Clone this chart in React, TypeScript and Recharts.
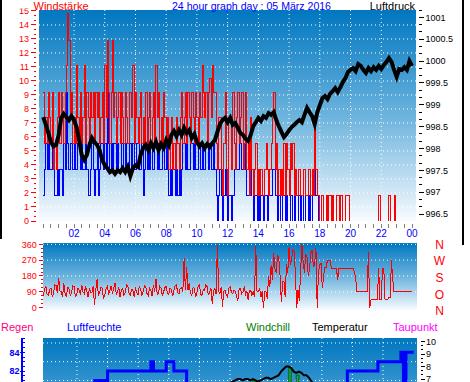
import React from 'react';
import { ComposedChart, Line, XAxis, YAxis, CartesianGrid } from 'recharts';

const FONT = "'Liberation Sans', Arial, Helvetica, sans-serif";
const WIND_STEP = 1 / 12; // wind readings every 5 minutes
const BARO_STEP = 1 / 6; // pressure / climate readings every 10 minutes

// Windstärke (km/h): gusts (red) and average (blue), 00:00 .. 24:00
const gust = [
  9.2, 5.5, 7.4, 5.5, 9.2, 7.4, 5.5, 9.2, 3.7, 5.5, 3.7, 7.4, 9.2, 5.5, 9.2, 7.4, 5.5, 9.2, 11.1, 14.8, 12.9, 7.4, 9.2, 5.5,
  7.4, 5.5, 11.1, 7.4, 5.5, 9.2, 5.5, 7.4, 11.1, 5.5, 9.2, 7.4, 5.5, 9.2, 7.4, 9.2, 5.5, 9.2, 7.4, 9.2, 5.5, 7.4, 9.2, 5.5,
  11.1, 7.4, 12.9, 9.2, 5.5, 9.2, 12.9, 7.4, 9.2, 5.5, 7.4, 9.2, 5.5, 9.2, 7.4, 5.5, 9.2, 7.4, 5.5, 9.2, 9.2, 7.4, 11.1, 5.5,
  9.2, 7.4, 5.5, 7.4, 9.2, 5.5, 7.4, 5.5, 9.2, 5.5, 7.4, 9.2, 5.5, 7.4, 9.2, 5.5, 11.1, 7.4, 9.2, 5.5, 7.4, 5.5, 9.2, 7.4,
  5.5, 7.4, 3.7, 5.5, 7.4, 3.7, 5.5, 3.7, 7.4, 5.5, 3.7, 7.4, 9.2, 5.5, 7.4, 9.2, 5.5, 9.2, 7.4, 5.5, 9.2, 7.4, 5.5, 9.2,
  7.4, 5.5, 9.2, 7.4, 11.1, 9.2, 7.4, 9.2, 5.5, 9.2, 10.2, 7.4, 11.1, 9.2, 9.2, 5.5, 3.7, 7.4, 7.4, 3.7, 1.8, 5.5, 9.2, 3.7,
  1.8, 7.4, 7.4, 3.7, 9.2, 5.5, 3.7, 7.4, 9.2, 5.5, 7.4, 9.2, 3.7, 5.5, 9.2, 3.7, 5.5, 1.8, 7.4, 3.7, 1.8, 3.7, 5.5, 1.8,
  3.7, 1.8, 3.7, 1.8, 1.8, 3.7, 5.5, 3.7, 1.8, 3.7, 5.5, 7.4, 9.2, 3.7, 5.5, 1.8, 3.7, 1.8, 3.7, 1.8, 5.5, 1.8, 5.5, 3.7,
  1.8, 5.5, 3.7, 5.5, 1.8, 3.7, 1.8, 3.7, 3.7, 1.8, 1.8, 3.7, 3.7, 1.8, 1.8, 3.7, 3.7, 1.8, 3.7, 1.8, 7.4, 3.7, 1.8, 1.8,
  0, 1.8, 1.8, 0, 0, 1.8, 0, 1.8, 1.8, 0, 1.8, 0, 0, 1.8, 1.8, 0, 1.8, 1.8, 0, 0, 1.8, 1.8, 1.8, 0,
  0, 0, 0, 0, 0, 0, 0, 0, 0, 0, 0, 0, 0, 0, 0, 0, 0, 0, 0, 0, 0, 0, 1.8, 0,
  0, 0, 0, 0, 0, 0, 1.8, 0, 0, 0, 1.8, 0, 0, 0, 0, 0, 0, 0, 0, 0, 0, 0, 0, 0,
  0,
];
const avgWind = [
  1.8, 3.7, 5.5, 3.7, 5.5, 3.7, 3.7, 5.5, 3.7, 1.8, 1.8, 3.7, 1.8, 3.7, 3.7, 1.8, 5.5, 3.7, 9.2, 5.5, 3.7, 5.5, 5.5, 3.7,
  5.5, 3.7, 3.7, 5.5, 5.5, 3.7, 5.5, 3.7, 3.7, 5.5, 3.7, 1.8, 1.8, 3.7, 5.5, 3.7, 1.8, 3.7, 5.5, 1.8, 3.7, 5.5, 5.5, 3.7,
  5.5, 3.7, 9.2, 5.5, 3.7, 5.5, 3.7, 5.5, 5.5, 3.7, 5.5, 3.7, 3.7, 5.5, 5.5, 3.7, 5.5, 3.7, 3.7, 5.5, 5.5, 3.7, 5.5, 3.7,
  3.7, 5.5, 5.5, 3.7, 3.7, 5.5, 1.8, 3.7, 5.5, 3.7, 5.5, 3.7, 5.5, 3.7, 3.7, 5.5, 5.5, 3.7, 5.5, 3.7, 3.7, 5.5, 5.5, 3.7,
  5.5, 3.7, 1.8, 3.7, 1.8, 3.7, 3.7, 1.8, 3.7, 1.8, 3.7, 1.8, 3.7, 5.5, 5.5, 3.7, 5.5, 3.7, 3.7, 5.5, 5.5, 3.7, 5.5, 3.7,
  3.7, 5.5, 5.5, 3.7, 5.5, 3.7, 3.7, 5.5, 5.5, 3.7, 5.5, 3.7, 3.7, 5.5, 3.7, 1.8, 0, 1.8, 3.7, 1.8, 0, 1.8, 3.7, 1.8,
  0, 1.8, 1.8, 0, 1.8, 3.7, 5.5, 3.7, 3.7, 5.5, 5.5, 3.7, 3.7, 5.5, 3.7, 1.8, 1.8, 3.7, 1.8, 3.7, 0, 1.8, 1.8, 0,
  1.8, 0, 1.8, 1.8, 0, 1.8, 1.8, 0, 1.8, 1.8, 1.8, 3.7, 3.7, 1.8, 1.8, 0, 1.8, 0, 0, 1.8, 1.8, 0, 1.8, 0,
  0, 1.8, 1.8, 0, 1.8, 0, 0, 1.8, 1.8, 0, 1.8, 0, 0, 1.8, 1.8, 0, 1.8, 0, 3.7, 1.8, 3.7, 1.8, 1.8, 0,
  0, 0, 0, 0, 0, 0, 0, 0, 0, 0, 0, 0, 0, 0, 0, 0, 0, 0, 0, 0, 0, 0, 0, 0,
  0, 0, 0, 0, 0, 0, 0, 0, 0, 0, 0, 0, 0, 0, 0, 0, 0, 0, 0, 0, 0, 0, 0, 0,
  0, 0, 0, 0, 0, 0, 0, 0, 0, 0, 0, 0, 0, 0, 0, 0, 0, 0, 0, 0, 0, 0, 0, 0,
  0,
];
// Windrichtung (Grad), every 5 minutes
const direction = [
  65, 110, 120, 75, 70, 105, 110, 60, 80, 130, 125, 85, 170, 95, 90, 60, 140, 80, 60, 115, 110, 70, 85, 125,
  120, 65, 70, 110, 100, 75, 130, 90, 80, 120, 95, 60, 110, 85, 90, 120, 15, 100, 160, 70, 85, 115, 110, 55,
  70, 105, 120, 80, 95, 125, 80, 110, 140, 75, 90, 115, 60, 100, 110, 70, 85, 130, 125, 80, 70, 105, 100, 60,
  115, 85, 75, 120, 105, 70, 90, 125, 120, 80, 70, 110, 100, 65, 130, 90, 165, 75, 85, 120, 110, 70, 90, 115,
  120, 80, 75, 110, 105, 65, 95, 125, 130, 85, 80, 110, 115, 90, 280, 100, 230, 100, 140, 80, 70, 115, 110, 60,
  85, 120, 130, 75, 70, 105, 100, 130, 120, 70, 90, 110, 20, 95, 110, 75, 355, 90, 80, 120, 5, 95, 100, 70,
  60, 110, 120, 85, 80, 100, 95, 60, 40, 105, 110, 80, 90, 120, 75, 95, 45, 100, 100, 70, 90, 60, 350, 90,
  90, 110, 60, 95, 0, 90, 90, 50, 180, 120, 240, 160, 310, 220, 200, 300, 280, 180, 30, 150, 150, 60, 250, 200,
  345, 240, 280, 330, 320, 180, 0, 100, 40, 200, 360, 260, 200, 300, 290, 180, 220, 310, 330, 230, 250, 340, 0, 200,
  245, 250, 110, 180, 230, 230, 270, 270, 270, 225, 225, 225, 225, 225, 160, 225, 225, 225, 225, 225, 225, 225, 225, 225,
  225, 225, 225, 200, 170, 90, 90, 90, 90, 90, 90, 90, 90, 90, 315, 0, 45, 45, 45, 45, 45, 45, 225, 45,
  45, 225, 225, 45, 45, 45, 60, 60, 270, 160, 90, 90, 90, 90, 90, 90, 90, 90, 90, 90, 90, 90, 90, 90,
  90,
];
// Luftdruck (hPa), every 10 minutes
const pressure = [
  998.72, 998.54, 998.35, 998.15, 998.05, 998.08, 998.31, 998.7, 998.79, 998.72, 998.65, 998.74, 998.65, 998.49, 998.19,
  997.85, 997.74, 997.85, 998.08, 998.24, 998.15, 998.08, 997.96, 997.74, 997.62, 997.55, 997.46, 997.5, 997.42, 997.5,
  997.46, 997.55, 997.46, 997.58, 997.37, 997.55, 997.62, 997.58, 997.85, 998.01, 998.08, 997.96, 998.12, 998.01, 998.15,
  997.96, 998.1, 998.01, 998.19, 998.08, 998.31, 998.4, 998.28, 998.42, 998.31, 998.47, 998.35, 998.42, 998.24, 998.33,
  998.15, 998.05, 998.12, 998.01, 998.1, 998.03, 998.12, 998.19, 998.38, 998.56, 998.65, 998.7, 998.6, 998.7, 998.54,
  998.58, 998.47, 998.35, 998.31, 998.22, 998.17, 998.31, 998.51, 998.6, 998.7, 998.63, 998.74, 998.7, 998.81, 998.77,
  998.83, 998.65, 998.51, 998.38, 998.26, 998.33, 998.42, 998.49, 998.54, 998.6, 998.65, 998.6, 998.77, 998.93, 998.83,
  998.74, 998.56, 998.83, 998.99, 999.15, 999.2, 999.13, 999.25, 999.31, 999.38, 999.29, 999.4, 999.52, 999.61, 999.75,
  999.8, 999.84, 999.77, 999.93, 999.89, 999.8, 999.73, 999.84, 999.77, 999.86, 999.8, 999.89, 999.82, 999.91, 999.98,
  1000.07, 999.98, 999.8, 999.64, 999.82, 999.8, 999.86, 999.8, 1000.0, 999.89,
];
// Luftfeuchte (%), Temperatur and Windchill (°C), every 10 minutes
const humidity = [
  80, 80, 80, 80, 80, 80, 80, 80, 80, 80, 80, 80, 80, 80, 80, 80, 80, 80, 80, 81,
  81, 81, 81, 81, 82, 82, 82, 82, 82, 82, 82, 82, 82, 82, 82, 82, 82, 82, 82, 82,
  82, 83, 82, 82, 82, 82, 82, 83, 83, 83, 82, 82, 82, 82, 82, 80, 80, 79, 79, 79,
  78, 78, 78, 77, 77, 77, 77, 76, 76, 76, 76, 76, 75, 75, 75, 75, 75, 75, 75, 75,
  75, 75, 75, 75, 75, 75, 75, 75, 75, 75, 75, 75, 76, 76, 76, 76, 76, 76, 76, 76,
  76, 77, 77, 77, 77, 77, 78, 78, 78, 78, 79, 79, 79, 80, 80, 80, 80, 80, 82, 82,
  82, 82, 82, 82, 82, 82, 82, 82, 82, 82, 83, 83, 83, 83, 83, 83, 83, 83, 83, 84,
  80, 84, 84, 84, 84,
];
const temperature = [
  4.6, 4.6, 4.5, 4.5, 4.5, 4.4, 4.4, 4.4, 4.3, 4.3, 4.3, 4.2, 4.2, 4.2, 4.1, 4.1, 4.1, 4.0, 4.0, 4.0,
  3.9, 3.9, 3.9, 3.9, 3.8, 3.8, 3.8, 3.8, 3.7, 3.7, 3.7, 3.7, 3.7, 3.6, 3.6, 3.6, 3.6, 3.7, 3.7, 3.8,
  3.9, 4.0, 4.1, 4.2, 4.4, 4.5, 4.7, 4.8, 5.0, 5.1, 5.2, 5.4, 5.5, 5.6, 5.7, 5.8, 5.9, 6.0, 6.0, 6.1,
  6.2, 6.2, 6.3, 6.3, 6.4, 6.4, 6.5, 6.5, 6.5, 6.6, 6.6, 6.6, 6.7, 6.8, 6.9, 7.0, 7.0, 6.9, 7.0, 7.0,
  6.9, 7.0, 6.9, 6.8, 6.9, 7.0, 7.1, 7.1, 7.0, 7.1, 7.2, 7.3, 7.6, 7.8, 8.0, 8.0, 7.9, 7.6, 7.5, 7.6,
  7.5, 7.3, 7.3, 7.1, 6.8, 6.5, 6.2, 6.0, 5.8, 5.6, 5.5, 5.4, 5.3, 5.2, 5.1, 5.0, 4.9, 4.8, 4.7, 4.6,
  4.5, 4.4, 4.3, 4.2, 4.1, 4.0, 4.0, 3.9, 3.8, 3.8, 3.7, 3.7, 3.6, 3.6, 3.5, 3.5, 3.4, 3.4, 3.4, 3.3,
  3.3, 3.3, 3.2, 3.2, 3.2,
];
const windchill = [
  3.0, 3.1, 2.9, 3.0, 2.8, 2.9, 3.0, 2.7, 2.8, 2.6, 2.9, 2.7, 2.6, 2.8, 2.6, 2.7, 2.5, 2.6, 2.6, 2.5,
  2.4, 2.5, 2.4, 2.3, 2.3, 2.2, 2.4, 2.2, 2.1, 2.2, 2.1, 2.0, 2.1, 2.0, 2.1, 2.0, 2.0, 2.1, 2.2, 2.2,
  2.4, 2.5, 2.6, 2.7, 2.9, 3.0, 3.2, 3.3, 3.5, 3.6, 3.7, 3.9, 4.0, 4.1, 4.2, 4.3, 4.4, 4.5, 4.5, 4.6,
  4.7, 4.7, 4.8, 4.8, 4.9, 5.0, 5.2, 5.3, 5.6, 5.4, 5.7, 5.6, 5.8, 5.9, 6.0, 6.1, 5.9, 6.0, 6.2, 6.0,
  6.1, 6.9, 6.0, 5.9, 6.0, 6.2, 6.3, 6.1, 6.2, 6.3, 6.2, 6.1, 6.3, 6.5, 6.6, 7.9, 6.6, 6.4, 7.3, 6.5,
  6.4, 6.3, 6.3, 6.2, 6.0, 5.8, 5.6, 5.4, 5.3, 5.2, 5.1, 5.0, 4.9, 4.8, 4.7, 4.6, 4.5, 4.4, 4.3, 4.2,
  4.1, 4.0, 3.9, 3.8, 3.8, 3.7, 3.6, 3.6, 3.5, 3.4, 3.4, 3.3, 3.3, 3.2, 3.2, 3.1, 3.1, 3.0, 3.0, 3.0,
  2.9, 2.9, 2.9, 2.8, 2.8,
];

// axis ticks / labels
const hourTicks = [2, 4, 6, 8, 10, 12, 14, 16, 18, 20, 22, 24];
const hourLabels = ['02', '04', '06', '08', '10', '12', '14', '16', '18', '20', '22', '00'];
const windTicks = [0, 1, 2, 3, 4, 5, 6, 7, 8, 9, 10, 11, 12, 13, 14, 15];
const pressureTicks = [996.5, 997, 997.5, 998, 998.5, 999, 999.5, 1000, 1000.5, 1001];
const dirTicks = [0, 90, 180, 270, 360];
const dirLabels = ['N', 'O', 'S', 'W', 'N'];
const humTicks = [82, 84];
const humGrid = [81, 83, 85];
const tempTicks = [7, 8, 9, 10];

const steps = (from: number, to: number, step: number) => {
  const out: number[] = [];
  const n = Math.round((to - from) / step);
  for (let k = 0; k <= n; k++) out.push(+(from + k * step).toFixed(4));
  return out;
};

const windData = gust.map((g, i) => ({ t: i * WIND_STEP, gust: g, avg: avgWind[i] }));
const baroData = pressure.map((p, i) => ({ t: i * BARO_STEP, p }));
const dirData = direction.map((d, i) => ({ t: i * WIND_STEP, dir: d }));
const lowData = humidity.map((h, i) => ({ t: i * BARO_STEP, hum: h, temp: temperature[i], chill: windchill[i] }));

interface TickStyle {
  side: 'left' | 'right';
  gap: number;
  majorLen: number;
  minorLen: number;
  labelGap: number;
  color: string;
  majors: number[];
  bold?: boolean;
  format?: (v: number) => string;
}

const axisTick = (s: TickStyle) => (props: any) => {
  const { x, y, payload } = props;
  const v = Number(payload.value);
  const major = s.majors.some((m) => Math.abs(m - v) < 1e-3);
  const dir = s.side === 'left' ? -1 : 1;
  const x0 = x + dir * s.gap;
  return (
    <g>
      <line x1={x0} x2={x0 + dir * (major ? s.majorLen : s.minorLen)} y1={y} y2={y} stroke={s.color} shapeRendering="crispEdges" />
      {major && (
        <text
          x={x + dir * s.labelGap}
          y={y}
          dy={3.2}
          textAnchor={s.side === 'left' ? 'end' : 'start'}
          fill={s.color}
          fontSize={9}
          fontWeight={s.bold ? 'bold' : 'normal'}
          fontFamily={FONT}
        >
          {s.format ? s.format(v) : String(v)}
        </text>
      )}
    </g>
  );
};

const WindTick = axisTick({ side: 'left', gap: 3, majorLen: 5, minorLen: 2.5, labelGap: 10, color: '#ff0000', majors: windTicks });
const PressureTick = axisTick({
  side: 'right', gap: 3, majorLen: 4.5, minorLen: 2.5, labelGap: 9.5, color: '#000000', majors: pressureTicks,
  format: (v) => (Number.isInteger(v) ? String(v) : v.toFixed(1)),
});
const DirTick = axisTick({ side: 'left', gap: 0, majorLen: 4, minorLen: 2, labelGap: 6.3, color: '#ff0000', majors: dirTicks });
const HumTick = axisTick({ side: 'left', gap: 18, majorLen: 5, minorLen: 3, labelGap: 23.5, color: '#0000ff', majors: humTicks, bold: true });
const TempTick = axisTick({ side: 'right', gap: 3.5, majorLen: 4.5, minorLen: 2.5, labelGap: 9, color: '#000000', majors: tempTicks });

const HourTick = (props: any) => {
  const { x, y, payload } = props;
  const v = Number(payload.value);
  const idx = hourTicks.findIndex((h) => Math.abs(h - v) < 1e-6);
  return (
    <g>
      <line x1={x} x2={x} y1={y + 3} y2={y + 7} stroke="#808080" shapeRendering="crispEdges" />
      {idx >= 0 && (
        <text x={x} y={y + 16.3} textAnchor="middle" fill="#0000ff" fontSize={10} fontFamily={FONT}>
          {hourLabels[idx]}
        </text>
      )}
    </g>
  );
};

const CompassTick = (props: any) => {
  const { x, y, payload } = props;
  const v = Number(payload.value);
  const idx = dirTicks.indexOf(v);
  const drift = ((360 - v) / 360) * 3.3;
  return (
    <text x={x + 22.5} y={y + drift} dy={4.5} textAnchor="middle" fill="#ff0000" fontSize={12} fontFamily={FONT}>
      {dirLabels[idx]}
    </text>
  );
};

const HumAxisLine = (props: any) => {
  const vb = props.viewBox;
  if (!vb) return null;
  const x = vb.x + vb.width - 21;
  return <line x1={x} x2={x} y1={vb.y} y2={vb.y + vb.height} stroke="#0000ff" strokeWidth={2} />;
};

const Sky = ({ id, bottom }: { id: string; bottom?: string }) => (
  <defs>
    <linearGradient id={id} x1="0" y1="0" x2="0" y2="1">
      <stop offset="0%" stopColor="#0077c0" />
      {bottom ? null : <stop offset="50%" stopColor="#6cb3dd" />}
      <stop offset="100%" stopColor={bottom || '#f7fbff'} />
    </linearGradient>
  </defs>
);

const noAxis = { axisLine: false, tickLine: false, tickSize: 0, tickMargin: 0, interval: 0 as const, allowDataOverflow: true };
const plain = { dot: false, activeDot: false, isAnimationActive: false };

export default function App() {
  return (
    <div style={{ position: 'fixed', left: 0, top: 0, width: 470, height: 382, overflow: 'hidden', background: '#fff' }}>
      <div style={{ position: 'absolute', left: 0, top: 0 }}>
        <ComposedChart width={470} height={240} data={windData} margin={{ top: 10, right: 0, bottom: 0, left: 0 }}>
          <Sky id="skyTop" />
          <CartesianGrid
            yAxisId="w"
            fill="url(#skyTop)"
            stroke="#ffffff"
            strokeDasharray="1 3"
            horizontalValues={windTicks.slice(1, -1)}
            verticalValues={hourTicks.slice(0, -1)}
          />
          <XAxis dataKey="t" type="number" domain={[-0.28, 24.26]} ticks={steps(0, 24, 0.5)} tick={HourTick} height={19} {...noAxis} />
          <YAxis yAxisId="w" orientation="left" width={39} domain={[0, 15.07]} ticks={steps(0, 15, 1 / 3)} tick={WindTick} {...noAxis} />
          <YAxis yAxisId="p" orientation="right" width={54} domain={[996.34, 1001.17]} ticks={steps(996.5, 1001.1667, 1 / 6)} tick={PressureTick} {...noAxis} />
          <Line yAxisId="w" dataKey="avg" type="stepAfter" stroke="#0000ff" strokeWidth={1} shapeRendering="crispEdges" {...plain} />
          <Line yAxisId="w" dataKey="gust" type="stepAfter" stroke="#ff0000" strokeWidth={1} shapeRendering="crispEdges" {...plain} />
          <Line yAxisId="p" data={baroData} dataKey="p" type="linear" stroke="#000000" strokeWidth={4} {...plain} />
        </ComposedChart>
      </div>

      <div style={{ position: 'absolute', left: 0, top: 236 }}>
        <ComposedChart width={470} height={84} data={dirData} margin={{ top: 7, right: 0, bottom: 10, left: 0 }}>
          <Sky id="skyMid" />
          <CartesianGrid yAxisId="d" fill="url(#skyMid)" stroke="#ffffff" strokeDasharray="1 3" vertical={false} horizontalValues={[90, 180, 270, 360]} />
          <XAxis dataKey="t" type="number" domain={[-0.02, 24.33]} hide allowDataOverflow />
          <YAxis yAxisId="d" orientation="left" width={43} domain={[-13.1, 367.4]} ticks={steps(0, 360, 22.5)} tick={DirTick} {...noAxis} />
          <YAxis yAxisId="c" orientation="right" width={53} domain={[-13.1, 367.4]} ticks={dirTicks} tick={CompassTick} {...noAxis} />
          <Line yAxisId="d" dataKey="dir" type="linear" stroke="#ff0000" strokeWidth={1} shapeRendering="crispEdges" {...plain} />
        </ComposedChart>
      </div>

      <div style={{ position: 'absolute', left: 0, top: 330 }}>
        <ComposedChart width={470} height={52} data={lowData} margin={{ top: 8, right: 0, bottom: 0, left: 0 }}>
          <Sky id="skyLow" bottom="#3293cd" />
          <CartesianGrid yAxisId="h" fill="url(#skyLow)" stroke="#ffffff" strokeDasharray="1 3" horizontalValues={humGrid} verticalValues={hourTicks.slice(0, -1)} />
          <XAxis dataKey="t" type="number" domain={[-0.22, 24.22]} hide allowDataOverflow />
          <YAxis yAxisId="h" orientation="left" width={43} domain={[80.83, 85.53]} ticks={steps(81, 85.5, 0.5)} tick={HumTick} label={{ content: HumAxisLine }} {...noAxis} />
          <YAxis yAxisId="tc" orientation="right" width={53} domain={[6.77, 10.28]} ticks={steps(7, 10, 1 / 3)} tick={TempTick} {...noAxis} />
          <Line yAxisId="tc" dataKey="chill" type="stepAfter" stroke="#008000" strokeWidth={1.5} {...plain} />
          <Line yAxisId="tc" dataKey="temp" type="linear" stroke="#000000" strokeWidth={2} {...plain} />
          <Line yAxisId="h" dataKey="hum" type="stepAfter" stroke="#0000ff" strokeWidth={3} {...plain} />
        </ComposedChart>
      </div>

      <svg width={470} height={382} style={{ position: 'absolute', left: 0, top: 0, pointerEvents: 'none' }} fontFamily={FONT} fontSize={11}>
        <rect x={3} y={0} width={458} height={8.5} fill="#ffffff" />
        <rect x={0} y={0} width={2} height={239} fill="#000000" />
        <rect x={462} y={0} width={2} height={245} fill="#000000" />
        <text x={33.5} y={10} fill="#ff0000">Windstärke</text>
        <text x={172} y={10} fill="#0000ff" textLength={159} lengthAdjust="spacingAndGlyphs">24 hour graph day : 05 März 2016</text>
        <text x={415} y={10} fill="#000000" textAnchor="end">Luftdruck</text>
        <text x={1} y={330.5} fill="#ff0080">Regen</text>
        <text x={67} y={330.5} fill="#0000ff">Luftfeuchte</text>
        <text x={246} y={330.5} fill="#008000">Windchill</text>
        <text x={312} y={330.5} fill="#000000">Temperatur</text>
        <text x={393} y={330.5} fill="#ff00ff">Taupunkt</text>
      </svg>
    </div>
  );
}
